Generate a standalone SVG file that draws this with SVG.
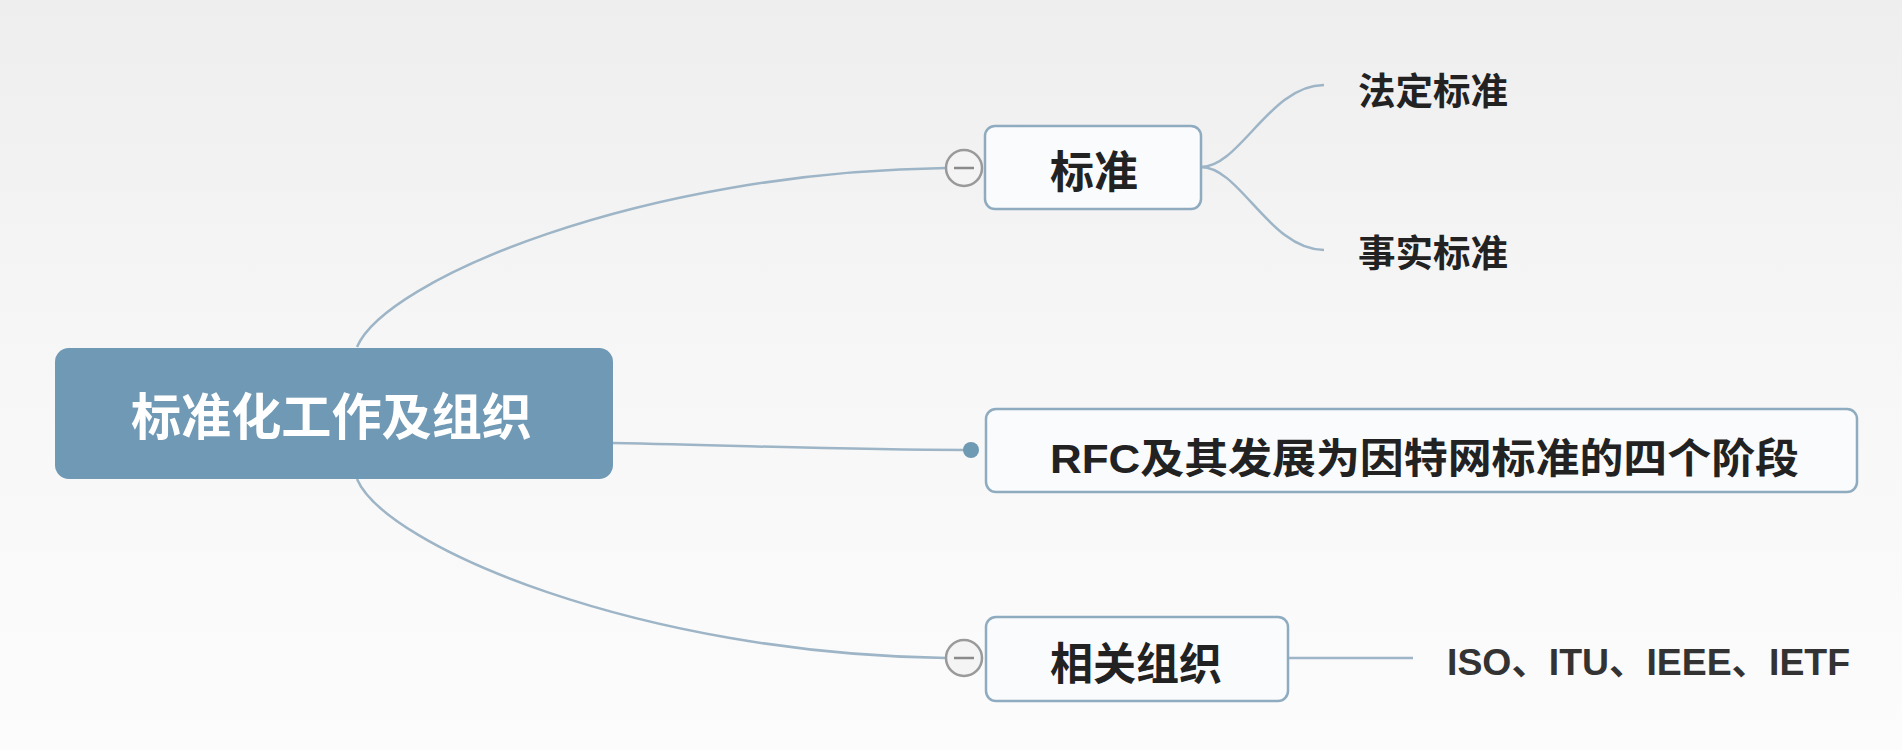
<svg xmlns="http://www.w3.org/2000/svg" width="1902" height="750" viewBox="0 0 1902 750">
<defs>
<linearGradient id="bg" x1="0" y1="0" x2="0" y2="1">
<stop offset="0" stop-color="#eeeeee"/>
<stop offset="0.5" stop-color="#f7f7f7"/>
<stop offset="1" stop-color="#fcfcfc"/>
</linearGradient>
<style>
.t{font-family:'Liberation Sans','Noto Sans CJK SC',sans-serif;font-weight:bold;fill:#222}
.box{fill:#fafbfc;stroke:#8eabbf;stroke-width:2.5}
.conn{fill:none;stroke:#9db5c6;stroke-width:2.5}
.col{fill:#f4f4f4;stroke:#9a9a9a;stroke-width:2.5}
.minus{stroke:#8a8a8a;stroke-width:2.5}
</style>
</defs>
<rect width="1902" height="750" fill="url(#bg)"/>
<g id="connectors">
<path class="conn" d="M357,347 C385,280 640,172 946,168"/>
<path class="conn" d="M357,479 C385,546 640,654 946,658"/>
<path class="conn" d="M613,443 C760,446 850,450 966,450"/>
<path class="conn" d="M1201,167 C1240,167 1270,85 1324,85"/>
<path class="conn" d="M1201,167 C1240,167 1270,250 1324,250"/>
<path class="conn" d="M1288,658 L1413,658"/>
</g>
<g id="root">
<rect x="55" y="348" width="558" height="131" rx="14" fill="#6f99b4"/>
<text class="t" x="131" y="435" font-size="50" fill="#ffffff" style="fill:#ffffff" textLength="401" lengthAdjust="spacingAndGlyphs">标准化工作及组织</text>
</g>
<g id="node-standard">
<rect class="box" x="985" y="126" width="216" height="83" rx="10"/>
<text class="t" x="1050" y="188" font-size="44" textLength="88" lengthAdjust="spacingAndGlyphs">标准</text>
<circle class="col" cx="964" cy="168" r="18"/>
<line class="minus" x1="954" y1="168" x2="974" y2="168"/>
</g>
<g id="node-legal">
<text class="t" x="1358" y="105" font-size="37" textLength="150" lengthAdjust="spacingAndGlyphs">法定标准</text>
</g>
<g id="node-defacto">
<text class="t" x="1358" y="267" font-size="37" textLength="150" lengthAdjust="spacingAndGlyphs">事实标准</text>
</g>
<g id="node-rfc">
<rect class="box" x="986" y="409" width="871" height="83" rx="10"/>
<text class="t" x="1050" y="473" font-size="41" textLength="749" lengthAdjust="spacingAndGlyphs">RFC及其发展为因特网标准的四个阶段</text>
<circle cx="971" cy="450" r="8" fill="#6e9ab3"/>
</g>
<g id="node-org">
<rect class="box" x="986" y="617" width="302" height="84" rx="10"/>
<text class="t" x="1050" y="680" font-size="44" textLength="172" lengthAdjust="spacingAndGlyphs">相关组织</text>
<circle class="col" cx="964" cy="658" r="18"/>
<line class="minus" x1="954" y1="658" x2="974" y2="658"/>
</g>
<g id="node-iso">
<text class="t" x="1447" y="675" font-size="37" textLength="403" lengthAdjust="spacingAndGlyphs" style="fill:#333">ISO、ITU、IEEE、IETF</text>
</g>
</svg>
